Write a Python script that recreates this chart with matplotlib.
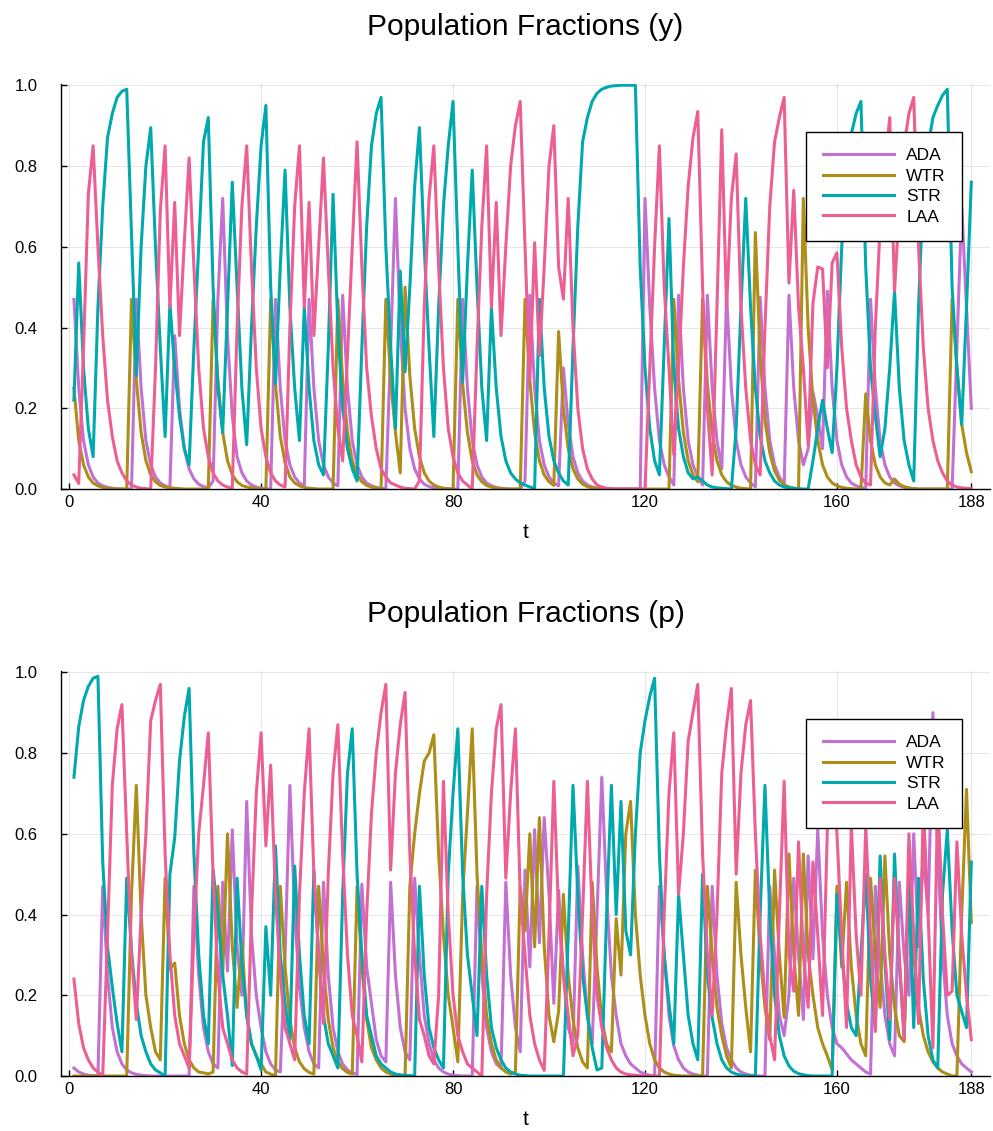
import numpy as np
import matplotlib
matplotlib.use("Agg")
import matplotlib.pyplot as plt

t = np.arange(1, 189)

# population fractions (y)
y_ada = [0.47, 0.25, 0.12, 0.06, 0.03, 0.015, 0.008, 0.004, 0.002, 0.001,
         0.0, 0.0, 0.0, 0.47, 0.25, 0.12, 0.06, 0.03, 0.015, 0.008,
         0.004, 0.38, 0.2, 0.1, 0.05, 0.025, 0.012, 0.006, 0.003, 0.02,
         0.47, 0.72, 0.38, 0.18, 0.08, 0.04, 0.02, 0.01, 0.005, 0.002,
         0.001, 0.0, 0.47, 0.25, 0.12, 0.06, 0.03, 0.015, 0.008, 0.47,
         0.25, 0.12, 0.06, 0.03, 0.015, 0.008, 0.48, 0.25, 0.12, 0.06,
         0.03, 0.015, 0.008, 0.004, 0.002, 0.001, 0.35, 0.72, 0.4, 0.2,
         0.1, 0.05, 0.025, 0.012, 0.006, 0.003, 0.001, 0.0, 0.0, 0.0,
         0.0, 0.47, 0.25, 0.12, 0.06, 0.03, 0.015, 0.008, 0.004, 0.002,
         0.001, 0.0, 0.0, 0.0, 0.02, 0.48, 0.25, 0.12, 0.06, 0.03,
         0.015, 0.008, 0.3, 0.16, 0.08, 0.04, 0.02, 0.01, 0.005, 0.002,
         0.001, 0.0, 0.0, 0.0, 0.0, 0.0, 0.0, 0.0, 0.0, 0.72,
         0.45, 0.25, 0.12, 0.06, 0.03, 0.01, 0.48, 0.25, 0.12, 0.06,
         0.03, 0.01, 0.48, 0.25, 0.12, 0.05, 0.48, 0.25, 0.12, 0.06,
         0.03, 0.015, 0.005, 0.475, 0.25, 0.12, 0.06, 0.03, 0.01, 0.48,
         0.25, 0.12, 0.06, 0.1, 0.24, 0.18, 0.1, 0.49, 0.25, 0.12,
         0.06, 0.03, 0.015, 0.008, 0.004, 0.002, 0.47, 0.25, 0.12, 0.06,
         0.03, 0.015, 0.008, 0.004, 0.002, 0.001, 0.0, 0.0, 0.0, 0.0,
         0.0, 0.0, 0.0, 0.0, 0.35, 0.7, 0.45, 0.2]
y_wtr = [0.25, 0.12, 0.06, 0.03, 0.015, 0.008, 0.004, 0.002, 0.001, 0.0,
         0.0, 0.0, 0.47, 0.27, 0.14, 0.07, 0.035, 0.018, 0.009, 0.005,
         0.003, 0.002, 0.001, 0.0, 0.0, 0.0, 0.0, 0.0, 0.0, 0.47,
         0.27, 0.14, 0.07, 0.035, 0.018, 0.009, 0.005, 0.003, 0.001, 0.0,
         0.0, 0.47, 0.26, 0.13, 0.065, 0.03, 0.015, 0.008, 0.004, 0.002,
         0.001, 0.0, 0.0, 0.0, 0.0, 0.47, 0.27, 0.14, 0.07, 0.035,
         0.018, 0.009, 0.005, 0.002, 0.001, 0.47, 0.27, 0.14, 0.04, 0.5,
         0.28, 0.15, 0.08, 0.04, 0.02, 0.01, 0.005, 0.002, 0.001, 0.0,
         0.47, 0.26, 0.14, 0.07, 0.035, 0.018, 0.009, 0.005, 0.002, 0.001,
         0.0, 0.0, 0.0, 0.0, 0.47, 0.27, 0.14, 0.07, 0.035, 0.018,
         0.009, 0.39, 0.2, 0.1, 0.05, 0.025, 0.012, 0.006, 0.003, 0.001,
         0.0, 0.0, 0.0, 0.0, 0.0, 0.0, 0.0, 0.0, 0.0, 0.0,
         0.0, 0.0, 0.0, 0.0, 0.0, 0.47, 0.27, 0.14, 0.07, 0.035,
         0.018, 0.47, 0.26, 0.14, 0.07, 0.035, 0.018, 0.009, 0.005, 0.002,
         0.001, 0.0, 0.635, 0.33, 0.17, 0.09, 0.045, 0.022, 0.011, 0.005,
         0.002, 0.001, 0.72, 0.4, 0.22, 0.12, 0.06, 0.03, 0.015, 0.008,
         0.004, 0.002, 0.001, 0.0, 0.0, 0.236, 0.12, 0.06, 0.03, 0.015,
         0.01, 0.025, 0.012, 0.006, 0.003, 0.001, 0.0, 0.0, 0.0, 0.0,
         0.0, 0.0, 0.0, 0.47, 0.3, 0.16, 0.09, 0.043]
y_str = [0.22, 0.56, 0.3, 0.15, 0.08, 0.45, 0.7, 0.87, 0.93, 0.97,
         0.985, 0.99, 0.63, 0.28, 0.6, 0.8, 0.895, 0.6, 0.35, 0.13,
         0.46, 0.3, 0.18, 0.1, 0.06, 0.35, 0.6, 0.86, 0.92, 0.5,
         0.25, 0.14, 0.45, 0.76, 0.5, 0.25, 0.11, 0.4, 0.65, 0.85,
         0.95, 0.5, 0.26, 0.55, 0.79, 0.45, 0.25, 0.12, 0.45, 0.25,
         0.12, 0.06, 0.035, 0.35, 0.73, 0.4, 0.2, 0.1, 0.05, 0.02,
         0.35, 0.65, 0.85, 0.93, 0.97, 0.6, 0.35, 0.15, 0.54, 0.29,
         0.5, 0.75, 0.895, 0.6, 0.35, 0.13, 0.45, 0.7, 0.85, 0.96,
         0.6, 0.265, 0.55, 0.79, 0.5, 0.25, 0.12, 0.45, 0.25, 0.13,
         0.07, 0.04, 0.025, 0.015, 0.01, 0.005, 0.002, 0.47, 0.25, 0.13,
         0.07, 0.04, 0.02, 0.01, 0.35, 0.65, 0.86, 0.92, 0.96, 0.98,
         0.99, 0.995, 0.998, 0.999, 1.0, 1.0, 1.0, 1.0, 0.55, 0.3,
         0.15, 0.07, 0.035, 0.35, 0.67, 0.3, 0.15, 0.08, 0.04, 0.025,
         0.03, 0.02, 0.01, 0.005, 0.003, 0.002, 0.001, 0.0, 0.15, 0.45,
         0.72, 0.45, 0.25, 0.13, 0.07, 0.04, 0.02, 0.01, 0.005, 0.003,
         0.002, 0.001, 0.0, 0.0, 0.07, 0.15, 0.22, 0.15, 0.09, 0.3,
         0.6, 0.8, 0.88, 0.93, 0.96, 0.55, 0.3, 0.18, 0.08, 0.15,
         0.3, 0.49, 0.25, 0.12, 0.06, 0.02, 0.45, 0.75, 0.85, 0.92,
         0.95, 0.975, 0.99, 0.5, 0.3, 0.16, 0.45, 0.76]
y_laa = [0.035, 0.014, 0.35, 0.73, 0.85, 0.6, 0.38, 0.22, 0.13, 0.07,
         0.04, 0.02, 0.01, 0.005, 0.002, 0.001, 0.0, 0.3, 0.69, 0.85,
         0.45, 0.71, 0.38, 0.61, 0.82, 0.55, 0.3, 0.15, 0.08, 0.04,
         0.02, 0.01, 0.005, 0.002, 0.4, 0.7, 0.85, 0.55, 0.3, 0.15,
         0.08, 0.04, 0.02, 0.01, 0.005, 0.4, 0.7, 0.85, 0.45, 0.71,
         0.38, 0.6, 0.82, 0.55, 0.3, 0.15, 0.07, 0.33, 0.6, 0.86,
         0.55, 0.3, 0.18, 0.1, 0.05, 0.03, 0.015, 0.01, 0.005, 0.002,
         0.001, 0.0, 0.02, 0.45, 0.72, 0.85, 0.55, 0.3, 0.15, 0.08,
         0.04, 0.02, 0.01, 0.0, 0.35, 0.65, 0.85, 0.45, 0.71, 0.38,
         0.6, 0.8, 0.9, 0.96, 0.6, 0.27, 0.61, 0.33, 0.55, 0.8,
         0.9, 0.55, 0.47, 0.72, 0.4, 0.2, 0.1, 0.05, 0.025, 0.01,
         0.005, 0.002, 0.001, 0.0, 0.0, 0.0, 0.0, 0.0, 0.0, 0.0,
         0.3, 0.6, 0.85, 0.5, 0.3, 0.085, 0.3, 0.55, 0.75, 0.87,
         0.935, 0.5, 0.2, 0.035, 0.45, 0.89, 0.45, 0.72, 0.83, 0.45,
         0.25, 0.12, 0.06, 0.035, 0.4, 0.7, 0.86, 0.92, 0.97, 0.51,
         0.74, 0.45, 0.3, 0.11, 0.46, 0.55, 0.545, 0.3, 0.56, 0.585,
         0.35, 0.2, 0.12, 0.06, 0.03, 0.015, 0.01, 0.4, 0.65, 0.8,
         0.92, 0.49, 0.7, 0.85, 0.93, 0.97, 0.6, 0.35, 0.2, 0.12,
         0.07, 0.04, 0.02, 0.01, 0.005, 0.003, 0.002, 0.001]

# population fractions (p)
p_ada = [0.02, 0.01, 0.005, 0.002, 0.001, 0.0, 0.47, 0.25, 0.12, 0.06,
         0.03, 0.015, 0.008, 0.004, 0.002, 0.001, 0.0, 0.0, 0.0, 0.0,
         0.0, 0.0, 0.0, 0.0, 0.0, 0.47, 0.25, 0.12, 0.06, 0.03,
         0.02, 0.48, 0.26, 0.61, 0.32, 0.2, 0.68, 0.35, 0.2, 0.12,
         0.06, 0.03, 0.015, 0.01, 0.3, 0.72, 0.4, 0.22, 0.12, 0.06,
         0.03, 0.02, 0.48, 0.25, 0.12, 0.06, 0.03, 0.015, 0.008, 0.004,
         0.475, 0.27, 0.18, 0.09, 0.05, 0.035, 0.48, 0.25, 0.12, 0.06,
         0.04, 0.49, 0.3, 0.15, 0.08, 0.04, 0.02, 0.01, 0.005, 0.002,
         0.001, 0.0, 0.0, 0.0, 0.47, 0.25, 0.12, 0.06, 0.03, 0.02,
         0.48, 0.25, 0.12, 0.06, 0.51, 0.27, 0.61, 0.33, 0.64, 0.45,
         0.18, 0.46, 0.25, 0.12, 0.08, 0.52, 0.3, 0.15, 0.08, 0.4,
         0.74, 0.45, 0.25, 0.15, 0.08, 0.05, 0.03, 0.02, 0.01, 0.005,
         0.002, 0.0, 0.47, 0.3, 0.15, 0.075, 0.04, 0.02, 0.01, 0.005,
         0.002, 0.0, 0.0, 0.47, 0.25, 0.13, 0.07, 0.04, 0.02, 0.01,
         0.005, 0.002, 0.001, 0.0, 0.0, 0.47, 0.3, 0.15, 0.1, 0.2,
         0.49, 0.3, 0.14, 0.545, 0.29, 0.61, 0.35, 0.2, 0.12, 0.08,
         0.07, 0.055, 0.04, 0.03, 0.02, 0.01, 0.005, 0.47, 0.28, 0.15,
         0.08, 0.05, 0.48, 0.3, 0.2, 0.6, 0.32, 0.55, 0.4, 0.9,
         0.55, 0.3, 0.15, 0.08, 0.05, 0.03, 0.02, 0.01]
p_wtr = [0.0, 0.0, 0.0, 0.0, 0.0, 0.0, 0.0, 0.0, 0.0, 0.0,
         0.0, 0.0, 0.45, 0.72, 0.4, 0.2, 0.12, 0.06, 0.04, 0.49,
         0.265, 0.28, 0.15, 0.08, 0.04, 0.02, 0.01, 0.008, 0.005, 0.01,
         0.47, 0.25, 0.6, 0.32, 0.17, 0.33, 0.15, 0.08, 0.05, 0.03,
         0.01, 0.005, 0.0, 0.47, 0.27, 0.14, 0.07, 0.035, 0.018, 0.009,
         0.005, 0.47, 0.27, 0.14, 0.07, 0.035, 0.018, 0.009, 0.005, 0.47,
         0.27, 0.14, 0.07, 0.04, 0.02, 0.01, 0.005, 0.002, 0.001, 0.0,
         0.47, 0.6, 0.7, 0.78, 0.8, 0.845, 0.55, 0.35, 0.2, 0.12,
         0.035, 0.45, 0.65, 0.86, 0.5, 0.3, 0.15, 0.08, 0.04, 0.02,
         0.01, 0.005, 0.01, 0.47, 0.36, 0.6, 0.32, 0.64, 0.32, 0.15,
         0.085, 0.16, 0.45, 0.25, 0.14, 0.07, 0.035, 0.02, 0.48, 0.27,
         0.14, 0.08, 0.06, 0.39, 0.25, 0.6, 0.68, 0.4, 0.25, 0.15,
         0.08, 0.04, 0.02, 0.01, 0.005, 0.002, 0.001, 0.0, 0.0, 0.0,
         0.0, 0.0, 0.47, 0.3, 0.17, 0.1, 0.05, 0.02, 0.48, 0.3,
         0.17, 0.06, 0.51, 0.3, 0.17, 0.09, 0.51, 0.3, 0.145, 0.55,
         0.3, 0.15, 0.55, 0.3, 0.2, 0.12, 0.08, 0.05, 0.015, 0.47,
         0.27, 0.48, 0.27, 0.15, 0.08, 0.05, 0.49, 0.3, 0.17, 0.545,
         0.3, 0.17, 0.1, 0.085, 0.5, 0.3, 0.17, 0.1, 0.06, 0.035,
         0.02, 0.01, 0.005, 0.0, 0.0, 0.4, 0.71, 0.38]
p_str = [0.74, 0.865, 0.93, 0.965, 0.985, 0.99, 0.53, 0.32, 0.22, 0.13,
         0.06, 0.49, 0.31, 0.18, 0.1, 0.06, 0.03, 0.015, 0.008, 0.0,
         0.5, 0.59, 0.78, 0.89, 0.96, 0.55, 0.3, 0.15, 0.08, 0.51,
         0.4, 0.25, 0.15, 0.026, 0.49, 0.28, 0.15, 0.08, 0.05, 0.015,
         0.37, 0.2, 0.57, 0.3, 0.18, 0.09, 0.52, 0.3, 0.15, 0.08,
         0.51, 0.3, 0.15, 0.08, 0.05, 0.02, 0.45, 0.75, 0.86, 0.5,
         0.3, 0.15, 0.1, 0.05, 0.03, 0.02, 0.01, 0.005, 0.003, 0.002,
         0.001, 0.0, 0.47, 0.25, 0.12, 0.07, 0.04, 0.02, 0.5, 0.7,
         0.86, 0.5, 0.3, 0.2, 0.1, 0.47, 0.25, 0.12, 0.07, 0.04,
         0.02, 0.01, 0.005, 0.002, 0.001, 0.0, 0.0, 0.0, 0.0, 0.0,
         0.0, 0.0, 0.0, 0.35, 0.72, 0.45, 0.25, 0.15, 0.07, 0.015,
         0.02, 0.4, 0.72, 0.4, 0.68, 0.36, 0.3, 0.6, 0.8, 0.88,
         0.94, 0.985, 0.55, 0.3, 0.18, 0.08, 0.45, 0.3, 0.15, 0.08,
         0.04, 0.5, 0.25, 0.145, 0.08, 0.04, 0.02, 0.01, 0.005, 0.002,
         0.001, 0.0, 0.0, 0.4, 0.72, 0.4, 0.2, 0.1, 0.05, 0.025,
         0.012, 0.006, 0.003, 0.001, 0.0, 0.0, 0.0, 0.0, 0.0, 0.45,
         0.3, 0.18, 0.12, 0.1, 0.3, 0.5, 0.24, 0.12, 0.545, 0.28,
         0.09, 0.55, 0.28, 0.1, 0.49, 0.12, 0.49, 0.24, 0.1, 0.04,
         0.02, 0.45, 0.61, 0.36, 0.2, 0.16, 0.12, 0.53]
p_laa = [0.24, 0.13, 0.07, 0.04, 0.02, 0.01, 0.0, 0.35, 0.72, 0.86,
         0.92, 0.6, 0.3, 0.14, 0.4, 0.6, 0.88, 0.93, 0.97, 0.55,
         0.3, 0.15, 0.08, 0.05, 0.02, 0.35, 0.6, 0.72, 0.85, 0.5,
         0.25, 0.12, 0.08, 0.04, 0.02, 0.01, 0.005, 0.4, 0.7, 0.85,
         0.57, 0.77, 0.45, 0.25, 0.12, 0.08, 0.04, 0.45, 0.7, 0.86,
         0.5, 0.3, 0.13, 0.5, 0.75, 0.87, 0.55, 0.3, 0.15, 0.1,
         0.035, 0.4, 0.65, 0.8, 0.9, 0.97, 0.51, 0.75, 0.87, 0.95,
         0.55, 0.3, 0.14, 0.1, 0.05, 0.03, 0.2, 0.73, 0.4, 0.2,
         0.1, 0.06, 0.03, 0.02, 0.01, 0.0, 0.45, 0.7, 0.86, 0.92,
         0.49, 0.7, 0.86, 0.45, 0.3, 0.15, 0.08, 0.04, 0.014, 0.35,
         0.73, 0.4, 0.25, 0.15, 0.05, 0.1, 0.4, 0.73, 0.4, 0.2,
         0.12, 0.07, 0.04, 0.02, 0.01, 0.005, 0.003, 0.002, 0.001, 0.0,
         0.0, 0.0, 0.0, 0.4, 0.7, 0.85, 0.45, 0.6, 0.83, 0.9,
         0.97, 0.55, 0.3, 0.15, 0.4, 0.75, 0.87, 0.96, 0.5, 0.75,
         0.87, 0.93, 0.6, 0.35, 0.2, 0.1, 0.04, 0.4, 0.73, 0.3,
         0.21, 0.58, 0.3, 0.17, 0.53, 0.35, 0.15, 0.61, 0.8, 0.6,
         0.35, 0.12, 0.62, 0.35, 0.2, 0.62, 0.35, 0.11, 0.49, 0.3,
         0.14, 0.49, 0.3, 0.09, 0.6, 0.35, 0.13, 0.67, 0.4, 0.07,
         0.69, 0.4, 0.2, 0.21, 0.58, 0.35, 0.2, 0.09]

names = ["ADA", "WTR", "STR", "LAA"]
colors = ["#c271d2", "#ac8e18", "#00a9ad", "#ed5e93"]
xticks = [0, 40, 80, 120, 160, 188]
yticks = [0.0, 0.2, 0.4, 0.6, 0.8, 1.0]

for s in (y_ada, y_wtr, y_str, y_laa, p_ada, p_wtr, p_str, p_laa):
    assert len(s) == len(t), len(s)

plt.rcParams['font.family'] = ['Liberation Sans', 'DejaVu Sans']

fig = plt.figure(figsize=(9.93, 11.31), dpi=100)
ax1 = fig.add_axes([0.0614, 0.5676, 0.9356, 0.3581])
ax2 = fig.add_axes([0.0614, 0.0486, 0.9356, 0.3581])


def panel(ax, series, title):
    for s, name, c in zip(series, names, colors):
        ax.plot(t, s, color=c, lw=2.2, label=name)
    ax.set_xlim(-1.7, 191.9)
    ax.set_ylim(0, 1.003)
    ax.set_xticks(xticks)
    ax.set_yticks(yticks)
    ax.set_yticklabels([f"{v:.1f}" for v in yticks])
    ax.grid(True, color="black", alpha=0.1, lw=0.7)
    ax.set_axisbelow(True)
    for side in ("top", "right"):
        ax.spines[side].set_visible(False)
    for side in ("left", "bottom"):
        ax.spines[side].set_linewidth(1.0)
    ax.tick_params(direction="in", length=4, width=1, labelsize=12)
    ax.tick_params(axis="x", pad=4)
    ax.tick_params(axis="y", pad=17)
    ax.set_xlabel("t", fontsize=15, labelpad=10)
    ax.set_title(title, fontsize=21.5, pad=35)
    leg = ax.legend(loc="upper right", bbox_to_anchor=(0.97, 0.882),
                    borderaxespad=0, fontsize=12.5, frameon=True,
                    fancybox=False, edgecolor="black", framealpha=1,
                    handlelength=4.1, handletextpad=0.7, labelspacing=0.3,
                    borderpad=0.95)
    leg.get_frame().set_linewidth(1.0)


panel(ax1, [y_ada, y_wtr, y_str, y_laa], "Population Fractions (y)")
panel(ax2, [p_ada, p_wtr, p_str, p_laa], "Population Fractions (p)")

fig.savefig("out.png", dpi=100)
